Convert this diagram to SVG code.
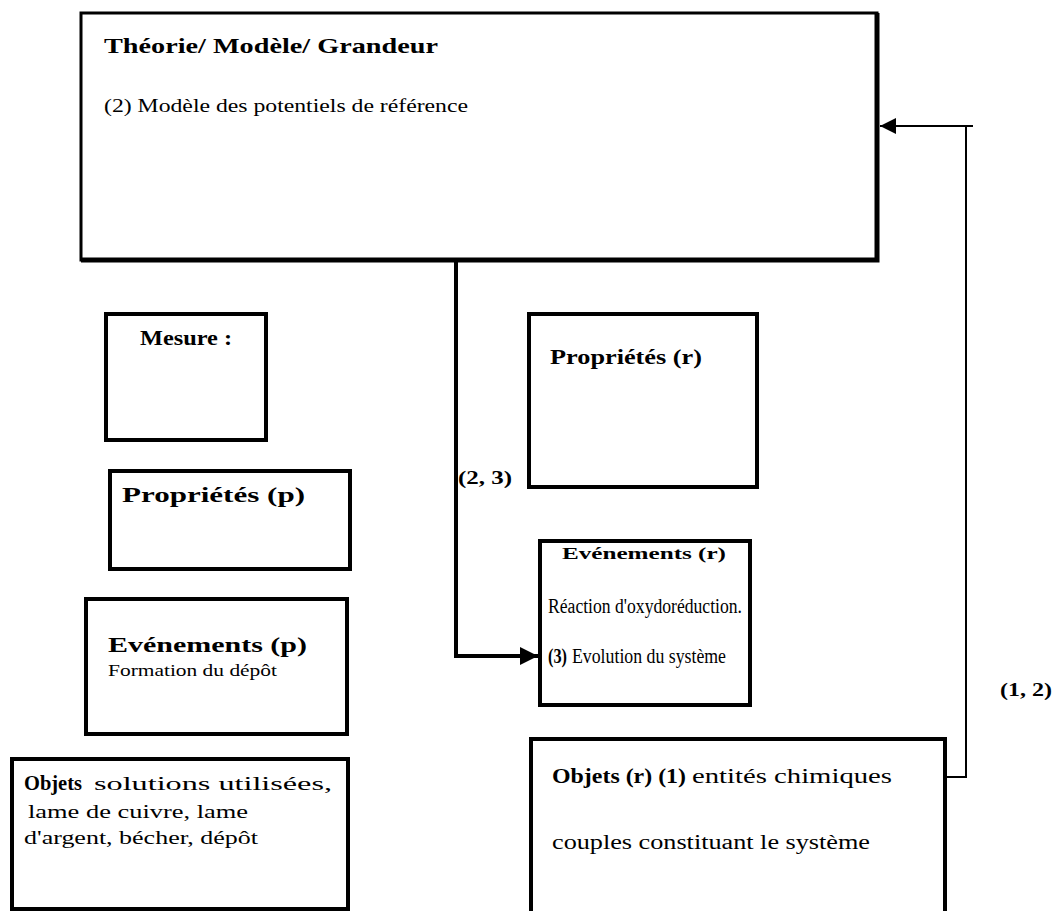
<svg xmlns="http://www.w3.org/2000/svg" width="1056" height="911" viewBox="0 0 1056 911">
  <style>
    .box { fill: #fff; stroke: #000; stroke-width: 4; }
    .t { font-family: "Liberation Serif", "Times New Roman", serif; fill: #000; }
    .b { font-weight: bold; }
    .wire { fill: none; stroke: #000; }
  </style>
  <defs>
    <marker id="head" viewBox="0 0 10 10" refX="10" refY="5" markerWidth="4.5" markerHeight="5" markerUnits="strokeWidth" orient="auto">
      <path d="M0,0 L10,5 L0,10 z" fill="#000"/>
    </marker>
    <marker id="headThin" viewBox="0 0 10 10" refX="10" refY="5" markerWidth="8" markerHeight="11" markerUnits="strokeWidth" orient="auto">
      <path d="M0,0 L10,5 L0,10 z" fill="#000"/>
    </marker>
  </defs>
  <rect width="1056" height="911" fill="#fff"/>

  <g id="theorie">
    <rect x="81" y="13" width="796" height="247" fill="#fff" stroke="#000" stroke-width="3"/>
    <path d="M877,13 V260 H81" fill="none" stroke="#000" stroke-width="5"/>
    <text class="t b" x="104" y="53" font-size="22" textLength="334" lengthAdjust="spacingAndGlyphs">Théorie/ Modèle/ Grandeur</text>
    <text class="t" x="104" y="112" font-size="19" textLength="364" lengthAdjust="spacingAndGlyphs">(2) Modèle des potentiels de référence</text>
  </g>

  <g id="mesure">
    <rect class="box" x="106" y="314" width="160" height="126"/>
    <text class="t b" x="140" y="345" font-size="20" textLength="92" lengthAdjust="spacingAndGlyphs">Mesure :</text>
  </g>

  <g id="proprietes-p">
    <rect class="box" x="110" y="471" width="240" height="98"/>
    <text class="t b" x="122" y="502" font-size="20" textLength="183" lengthAdjust="spacingAndGlyphs">Propriétés (p)</text>
  </g>

  <g id="evenements-p">
    <rect class="box" x="86" y="599" width="261" height="135"/>
    <text class="t b" x="108" y="652" font-size="20" textLength="199" lengthAdjust="spacingAndGlyphs">Evénements (p)</text>
    <text class="t" x="108" y="676" font-size="17" textLength="169" lengthAdjust="spacingAndGlyphs">Formation du dépôt</text>
  </g>

  <g id="objets-p">
    <rect class="box" x="12" y="759" width="336" height="150"/>
    <text class="t b" x="24" y="790" font-size="21" textLength="58" lengthAdjust="spacingAndGlyphs">Objets</text>
    <text class="t" x="94" y="790" font-size="19" textLength="238" lengthAdjust="spacingAndGlyphs">solutions utilisées,</text>
    <text class="t" x="28" y="818" font-size="19" textLength="220" lengthAdjust="spacingAndGlyphs">lame de cuivre, lame</text>
    <text class="t" x="24" y="844" font-size="19" textLength="234" lengthAdjust="spacingAndGlyphs">d'argent, bécher, dépôt</text>
  </g>

  <g id="proprietes-r">
    <rect class="box" x="529" y="314" width="228" height="173"/>
    <text class="t b" x="550" y="364" font-size="20" textLength="152" lengthAdjust="spacingAndGlyphs">Propriétés (r)</text>
  </g>

  <g id="evenements-r">
    <rect class="box" x="540" y="541" width="210" height="164"/>
    <text class="t b" x="562" y="559" font-size="17" textLength="164" lengthAdjust="spacingAndGlyphs">Evénements (r)</text>
    <text class="t" x="548" y="613" font-size="20" textLength="194" lengthAdjust="spacingAndGlyphs">Réaction d'oxydoréduction.</text>
    <text class="t b" x="548" y="663" font-size="20" textLength="19" lengthAdjust="spacingAndGlyphs">(3)</text>
    <text class="t" x="572" y="663" font-size="20" textLength="154" lengthAdjust="spacingAndGlyphs">Evolution du système</text>
  </g>

  <g id="objets-r">
    <rect class="box" x="531" y="739" width="414" height="174"/>
    <text class="t b" x="552" y="783" font-size="20" textLength="134" lengthAdjust="spacingAndGlyphs">Objets (r) (1)</text>
    <text class="t" x="692" y="783" font-size="20" textLength="200" lengthAdjust="spacingAndGlyphs">entités chimiques</text>
    <text class="t" x="552" y="849" font-size="20" textLength="318" lengthAdjust="spacingAndGlyphs">couples constituant le système</text>
  </g>

  <g id="connectors">
    <path class="wire" d="M456,262 V656 H538" stroke-width="4" marker-end="url(#head)"/>
    <path class="wire" d="M947,777 H966 V126 H880" stroke-width="2" marker-end="url(#headThin)"/>
    <path class="wire" d="M966,126 H973" stroke-width="2"/>
    <text class="t b" x="458" y="484" font-size="18" textLength="54" lengthAdjust="spacingAndGlyphs">(2, 3)</text>
    <text class="t b" x="1000" y="696" font-size="18" textLength="52" lengthAdjust="spacingAndGlyphs">(1, 2)</text>
  </g>
</svg>
